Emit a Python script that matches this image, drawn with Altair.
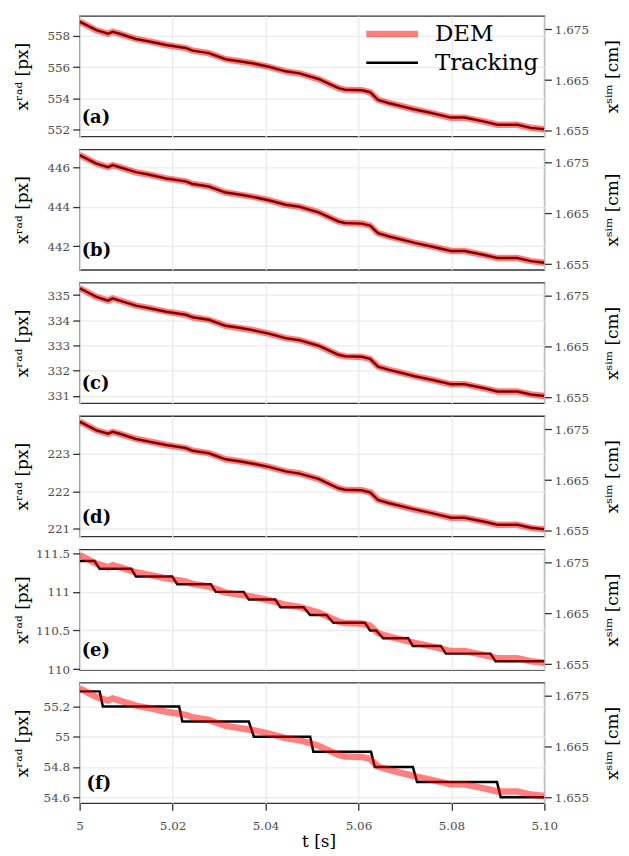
import altair as alt
import pandas as pd

# ---------------- data ----------------
series_names = ["DEM", "Tracking"]
panel_labels = ["(a)", "(b)", "(c)", "(d)", "(e)", "(f)"]

# DEM trajectory, simulation units [cm] (right axis, same in every panel)
t_dem = [5.000, 5.0036, 5.0061, 5.0071, 5.0086, 5.0121, 5.0150, 5.0186, 5.0228,
         5.0243, 5.0278, 5.0314, 5.0343, 5.0371, 5.0407, 5.0443, 5.0473, 5.0514,
         5.0557, 5.0571, 5.0607, 5.0625, 5.0642, 5.0664, 5.0721, 5.0757, 5.0799,
         5.0828, 5.0871, 5.0899, 5.0942, 5.0971, 5.1000]
x_sim_dem = [1.6765, 1.6748, 1.6741, 1.6745, 1.6741, 1.6731, 1.6726, 1.6719, 1.6713,
             1.6708, 1.6703, 1.6691, 1.6687, 1.6683, 1.6676, 1.6667, 1.6663, 1.6652,
             1.6634, 1.6631, 1.6630, 1.6626, 1.6611, 1.6605, 1.6592, 1.6585, 1.6576,
             1.6576, 1.6568, 1.6562, 1.6562, 1.6556, 1.6553]

# Tracking trajectories in radiograph pixels (left axis)
t_track_fine = t_dem
track_a = [558.92, 558.37, 558.14, 558.27, 558.14, 557.81, 557.65, 557.42, 557.23,
           557.06, 556.90, 556.51, 556.38, 556.25, 556.02, 555.73, 555.60, 555.24,
           554.65, 554.55, 554.52, 554.39, 553.90, 553.70, 553.28, 553.05, 552.76,
           552.76, 552.50, 552.30, 552.30, 552.10, 552.01]
track_b = [446.64, 446.20, 446.02, 446.13, 446.02, 445.77, 445.64, 445.45, 445.30,
           445.17, 445.04, 444.73, 444.63, 444.52, 444.34, 444.11, 444.01, 443.72,
           443.26, 443.18, 443.15, 443.05, 442.66, 442.51, 442.17, 441.99, 441.76,
           441.76, 441.55, 441.40, 441.40, 441.24, 441.16]
track_c = [335.27, 334.93, 334.78, 334.87, 334.78, 334.58, 334.48, 334.34, 334.22,
           334.12, 334.02, 333.78, 333.70, 333.61, 333.47, 333.29, 333.21, 332.99,
           332.63, 332.57, 332.55, 332.47, 332.16, 332.04, 331.78, 331.64, 331.46,
           331.46, 331.30, 331.17, 331.17, 331.05, 330.99]
track_d = [223.85, 223.62, 223.53, 223.58, 223.53, 223.39, 223.32, 223.23, 223.15,
           223.08, 223.01, 222.85, 222.80, 222.74, 222.65, 222.53, 222.47, 222.33,
           222.08, 222.04, 222.03, 221.97, 221.77, 221.69, 221.52, 221.42, 221.30,
           221.30, 221.19, 221.11, 221.11, 221.03, 220.99]
t_track_e = [5.000, 5.0032, 5.0043, 5.0111, 5.0121, 5.0199, 5.0210, 5.0282, 5.0293,
             5.0353, 5.0364, 5.0421, 5.0432, 5.0482, 5.0496, 5.0531, 5.0546, 5.0614,
             5.0625, 5.0638, 5.0653, 5.0707, 5.0717, 5.0777, 5.0788, 5.0884, 5.0895,
             5.1000]
track_e = [111.4, 111.4, 111.3, 111.3, 111.2, 111.2, 111.1, 111.1, 111.0, 111.0,
           110.9, 110.9, 110.8, 110.8, 110.7, 110.7, 110.6, 110.6, 110.5, 110.5,
           110.4, 110.4, 110.3, 110.3, 110.2, 110.2, 110.1, 110.1]
t_track_f = [5.000, 5.0043, 5.0050, 5.0214, 5.0221, 5.0364, 5.0375, 5.0496, 5.0503,
             5.0627, 5.0635, 5.0717, 5.0726, 5.0898, 5.0906, 5.1000]
track_f = [55.3, 55.3, 55.2, 55.2, 55.1, 55.1, 55.0, 55.0, 54.9, 54.9, 54.8, 54.8,
           54.7, 54.7, 54.6, 54.6]

left_ticks = [[552, 554, 556, 558], [442, 444, 446], [331, 332, 333, 334, 335],
              [221, 222, 223], [110, 110.5, 111, 111.5], [54.6, 54.8, 55, 55.2]]
left_domains = [[551.55, 559.28], [440.8, 446.93], [330.71, 335.49],
                [220.8, 224.0], [109.99, 111.55], [54.56, 55.357]]
right_ticks = [1.655, 1.665, 1.675]
right_domain = [1.6539, 1.6776]
time_ticks = [5.0, 5.02, 5.04, 5.06, 5.08, 5.10]
time_domain = [5.0, 5.1]

# ---------------- chart ----------------
FONT = "DejaVu Serif"
W, H = 467, 121
track_times = [t_track_fine, t_track_fine, t_track_fine, t_track_fine, t_track_e, t_track_f]
track_vals = [track_a, track_b, track_c, track_d, track_e, track_f]
label_x = [2, 2, 2, 2, 2, 7]


def panel(i):
    tr = pd.DataFrame({"t": track_times[i], "px": track_vals[i], "series": "Tracking"})
    dm = pd.DataFrame({"t": t_dem, "cm": x_sim_dem, "series": "DEM"})
    last = i == 5
    if last:
        xaxis = alt.Axis(values=time_ticks, grid=True, ticks=True, tickSize=7,
                         domain=False, labelPadding=10, labelFlush=False,
                         labelExpr="datum.value == 5 ? '5' : format(datum.value, '.2f')",
                         title="t [s]", titleFontSize=17, titleX=240, titleY=44,
                         titleBaseline="alphabetic", titleAlign="center")
    else:
        xaxis = alt.Axis(values=time_ticks, grid=True, ticks=False, labels=False,
                         domain=False, title=None)
    x = alt.X("t:Q", scale=alt.Scale(domain=time_domain, nice=False, zero=False), axis=xaxis)
    yl = alt.Y("px:Q", scale=alt.Scale(domain=left_domains[i], nice=False, zero=False),
               axis=alt.Axis(orient="left", values=left_ticks[i], format=".2~f",
                             grid=True, tickSize=7, labelPadding=3, domain=False,
                             labelFlush=False,
                             title="xʳᵃᵈ [px]", titleFontSize=17, titleAngle=270,
                             titleX=-52, titleY=H / 2, titleAlign="center",
                             titleBaseline="alphabetic"))
    yr = alt.Y("cm:Q", scale=alt.Scale(domain=right_domain, nice=False, zero=False),
               axis=alt.Axis(orient="right", values=right_ticks, format=".3f",
                             grid=False, tickSize=7, labelPadding=3, domain=False,
                             labelFlush=False,
                             title="xˢⁱᵐ [cm]", titleFontSize=17, titleAngle=270,
                             titleX=73, titleY=H / 2, titleAlign="center",
                             titleBaseline="alphabetic"))
    if i == 0:
        leg = alt.Legend(title=None, orient="none", legendX=299, legendY=3,
                         symbolType="M-2.26,0L2.26,0", symbolSize=529, labelFont=FONT,
                         labelFontSize=23, labelColor="black", labelOffset=28,
                         rowPadding=3, labelLimit=300)
        enc = dict(
            color=alt.Color("series:N", scale=alt.Scale(domain=series_names, range=["#ff0000", "#000000"]), legend=leg),
            strokeWidth=alt.StrokeWidth("series:N", scale=alt.Scale(domain=series_names, range=[6.5, 2.5]), legend=leg),
            opacity=alt.Opacity("series:N", scale=alt.Scale(domain=series_names, range=[0.5, 1.0]), legend=leg),
        )
        track = alt.Chart(tr).mark_line(clip=True).encode(x=x, y=yl, **enc)
        dem = alt.Chart(dm).mark_line(clip=True).encode(x=x, y=yr, **enc)
    else:
        track = alt.Chart(tr).mark_line(clip=True, color="#000000", strokeWidth=2.5).encode(x=x, y=yl)
        dem = alt.Chart(dm).mark_line(clip=True, color="#ff0000", strokeWidth=6.5, opacity=0.5).encode(x=x, y=yr)
    lab = alt.Chart(pd.DataFrame({"label": [panel_labels[i]]})).mark_text(
        align="left", baseline="alphabetic", font=FONT, fontSize=18,
        fontWeight="bold", color="black").encode(
        x=alt.value(label_x[i]), y=alt.value(H - 14), text="label:N")
    return alt.layer(track, dem, lab).resolve_scale(y="independent").properties(width=W, height=H)


chart = alt.vconcat(*[panel(i) for i in range(6)], spacing=13, bounds="flush").properties(
    padding={"left": 5, "top": 5, "right": 0, "bottom": 0}
).configure(font=FONT).configure_view(
    stroke="#333333", strokeWidth=1.3
).configure_axis(
    labelFont=FONT, titleFont=FONT, labelColor="#4d4d4d", labelFontSize=12,
    tickColor="#333333", tickWidth=1.3, titleColor="black", titleFontWeight="normal",
    gridColor="#ebebeb", gridWidth=1.3
)

chart.save("out.html", embed_options={"renderer": "svg", "actions": False})
